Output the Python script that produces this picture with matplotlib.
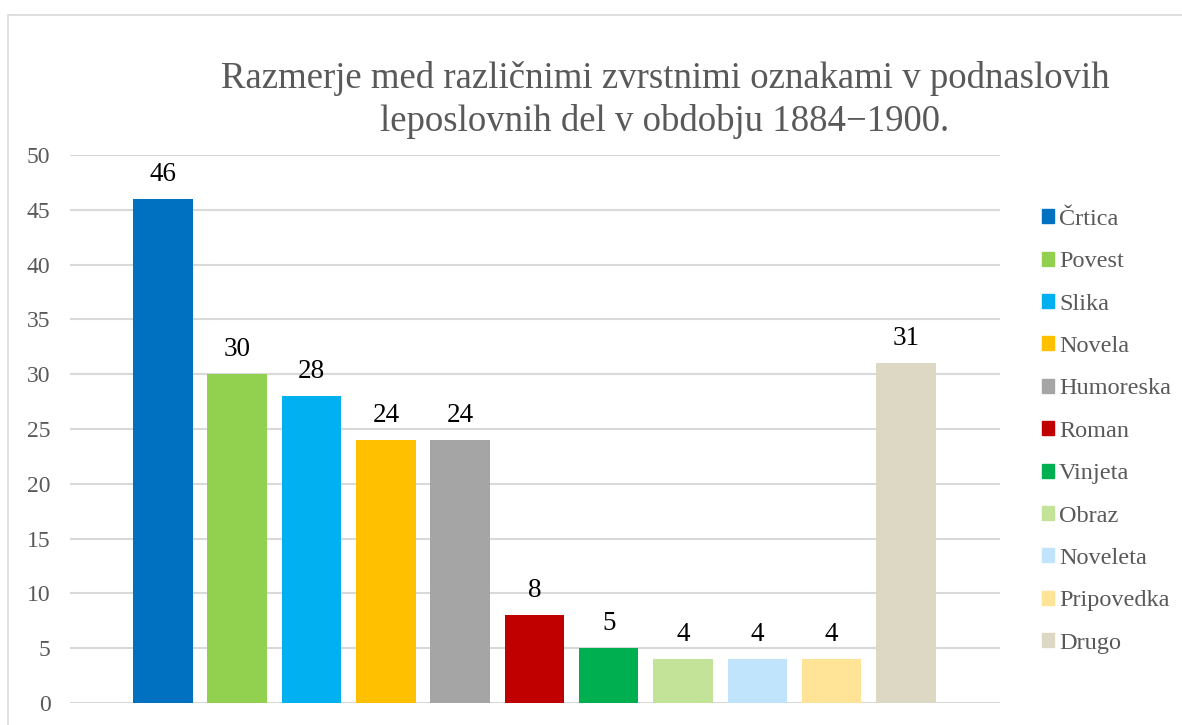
import matplotlib
matplotlib.use('Agg')
import matplotlib.pyplot as plt
import matplotlib.patches as mpatches
import numpy as np

plt.rcParams['font.family'] = ['Liberation Serif', 'DejaVu Serif']

# data
CATEGORIES = ["Črtica", "Povest", "Slika", "Novela", "Humoreska", "Roman",
              "Vinjeta", "Obraz", "Noveleta", "Pripovedka", "Drugo"]
VALUES = [46, 30, 28, 24, 24, 8, 5, 4, 4, 4, 31]
COLORS = ["#0070C0", "#92D050", "#00B0F0", "#FFC000", "#A5A5A5", "#C00000",
          "#00B050", "#C3E399", "#C0E4FC", "#FFE497", "#DDD8C4"]
Y_TICKS = [0, 5, 10, 15, 20, 25, 30, 35, 40, 45, 50]
TITLE = "Razmerje med različnimi zvrstnimi oznakami v podnaslovih\nleposlovnih del v obdobju 1884\u22121900."

TEXT_GRAY = '#595959'
GRID = '#d9d9d9'

fig = plt.figure(figsize=(11.82, 7.25), dpi=100)
fig.patch.set_facecolor('white')

# outer chart frame
frame = mpatches.Rectangle((8 / 1182, -0.05), 1.1, 1 - 15 / 725 + 0.05,
                           transform=fig.transFigure, fill=False,
                           edgecolor=GRID, linewidth=1.2)
fig.add_artist(frame)

ax = fig.add_axes([70 / 1182, 1 - 703 / 725, 930 / 1182, 548 / 725])

x = np.arange(len(CATEGORIES))
bars = ax.bar(x, VALUES, width=0.8, color=COLORS, zorder=3)

for b, v in zip(bars, VALUES):
    ax.text(b.get_x() + b.get_width() / 2, v + 1.1, str(v),
            ha='center', va='bottom', fontsize=19.5, color='black')

ax.set_xlim(-1.25, 11.265)
ax.set_ylim(0, 50)
ax.set_yticks(Y_TICKS)
ax.set_yticklabels([str(t) for t in Y_TICKS], fontsize=17, color=TEXT_GRAY)
ax.set_xticks([])
ax.tick_params(axis='y', length=0, pad=14)
ax.yaxis.grid(True, color=GRID, linewidth=1.5, zorder=0)
for s in ax.spines.values():
    s.set_visible(False)

handles = [mpatches.Patch(color=c, label=l) for c, l in zip(COLORS, CATEGORIES)]
leg = fig.legend(handles=handles, loc='upper left',
                 bbox_to_anchor=(1020 / 1182, 1 - 187 / 725),
                 frameon=False, fontsize=17.5, handlelength=0.5, handleheight=0.5,
                 handletextpad=0.2, labelspacing=0.88)
for t in leg.get_texts():
    t.set_color(TEXT_GRAY)

fig.text(665 / 1182, 1 - 100 / 725, TITLE, ha='center', va='center',
         fontsize=26.5, color=TEXT_GRAY, linespacing=1.3)

plt.savefig('out.png', dpi=100, facecolor=fig.get_facecolor())
plt.close()
